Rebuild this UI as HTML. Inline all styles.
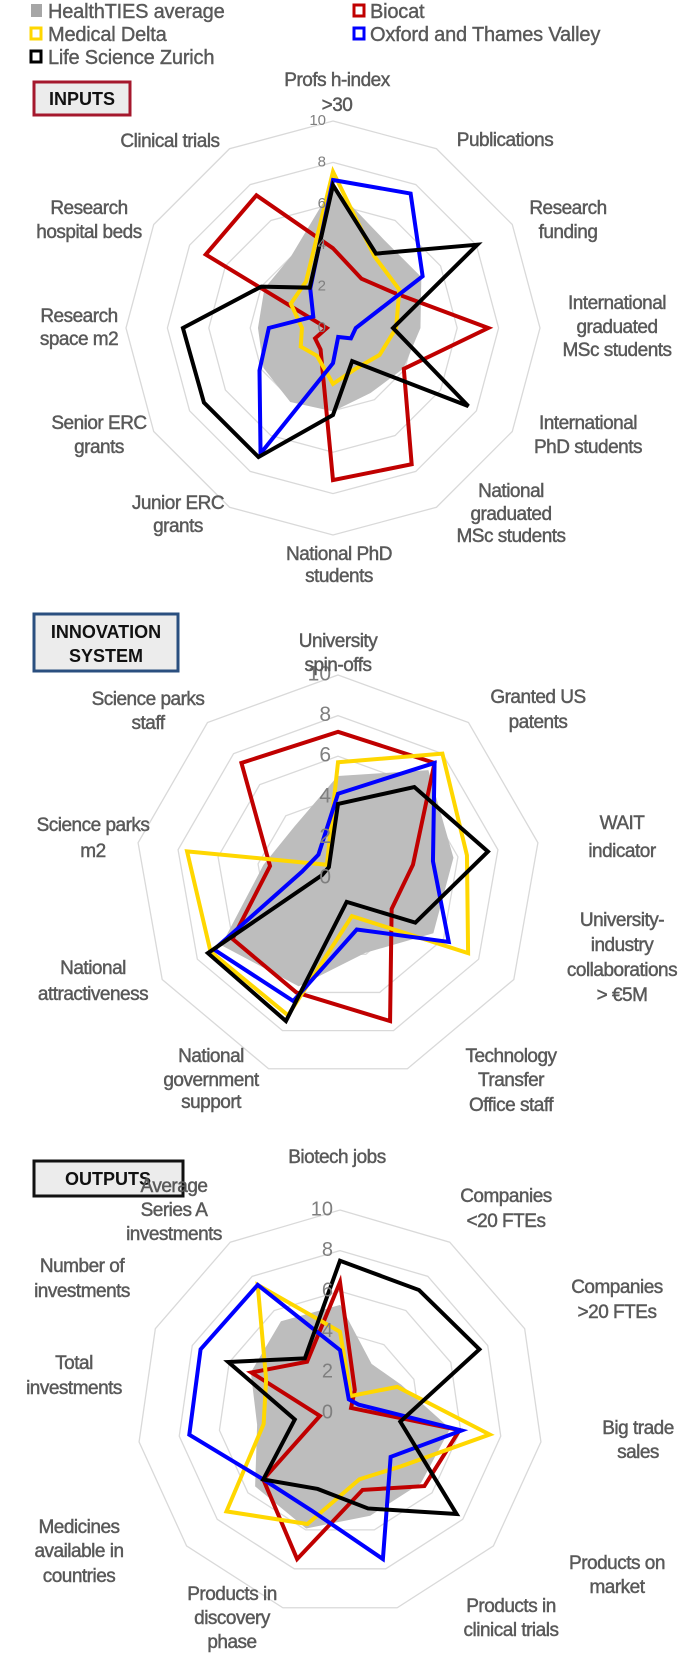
<!DOCTYPE html>
<html><head><meta charset="utf-8">
<style>
html,body{margin:0;padding:0;background:#fff;}
svg{display:block;font-family:"Liberation Sans",Arial,sans-serif;}
.lab{fill:#595959;stroke:#595959;stroke-width:0.45px;font-size:19px;letter-spacing:-0.5px;}
.leg{fill:#595959;stroke:#595959;stroke-width:0.4px;font-size:20px;letter-spacing:-0.2px;}
.box{font-weight:bold;font-size:18px;fill:#111;}
</style></head>
<body>
<svg id="root" width="681" height="1653" viewBox="0 0 681 1653" xmlns="http://www.w3.org/2000/svg">
  <g>
    <g><rect x="31" y="4" width="11" height="13" fill="#a6a6a6"/><text class="leg" x="48" y="18">HealthTIES average</text></g>
    <g><rect x="354" y="5" width="10" height="11" fill="#fff" stroke="#c00000" stroke-width="3"/><text class="leg" x="370" y="18">Biocat</text></g>
    <g><rect x="31" y="28" width="10" height="11" fill="#fff" stroke="#ffd700" stroke-width="3"/><text class="leg" x="48" y="41">Medical Delta</text></g>
    <g><rect x="354" y="28" width="10" height="11" fill="#fff" stroke="#0000ff" stroke-width="3"/><text class="leg" x="370" y="41">Oxford and Thames Valley</text></g>
    <g><rect x="31" y="51" width="10" height="11" fill="#fff" stroke="#000" stroke-width="3"/><text class="leg" x="48" y="64">Life Science Zurich</text></g>
  </g>

  <g><rect x="34" y="82" width="96" height="33" fill="#ececec" stroke="#a5182d" stroke-width="3"/><text class="box" x="82" y="105" text-anchor="middle">INPUTS</text></g>
  <g><rect x="34" y="614" width="144" height="57" fill="#ececec" stroke="#2a4f7f" stroke-width="3"/><text class="box" x="106" y="638" text-anchor="middle">INNOVATION</text><text class="box" x="106" y="662" text-anchor="middle">SYSTEM</text></g>
  <g><rect x="34" y="1161" width="149" height="35" fill="#ececec" stroke="#111" stroke-width="3"/><text class="box" x="108" y="1185" text-anchor="middle">OUTPUTS</text></g>

  <g id="c1"></g>
  <g id="c2"></g>
  <g id="c3"></g>

  <g class="lab" text-anchor="middle">
    <text x="337" y="86">Profs h-index</text><text x="337" y="111">&gt;30</text>
    <text x="505" y="146">Publications</text>
    <text x="568" y="214">Research</text><text x="568" y="238">funding</text>
    <text x="617" y="309">International</text><text x="617" y="333">graduated</text><text x="617" y="356">MSc students</text>
    <text x="588" y="429">International</text><text x="588" y="453">PhD students</text>
    <text x="511" y="497">National</text><text x="511" y="520">graduated</text><text x="511" y="542">MSc students</text>
    <text x="339" y="560">National PhD</text><text x="339" y="582">students</text>
    <text x="178" y="509">Junior ERC</text><text x="178" y="532">grants</text>
    <text x="99" y="429">Senior ERC</text><text x="99" y="453">grants</text>
    <text x="79" y="322">Research</text><text x="79" y="345">space m2</text>
    <text x="89" y="214">Research</text><text x="89" y="238">hospital beds</text>
    <text x="170" y="147">Clinical trials</text>
  </g>
  <g class="lab" text-anchor="middle">
    <text x="338" y="647">University</text><text x="338" y="671">spin-offs</text>
    <text x="538" y="703">Granted US</text><text x="538" y="728">patents</text>
    <text x="622" y="829">WAIT</text><text x="622" y="857">indicator</text>
    <text x="622" y="926">University-</text><text x="622" y="951">industry</text><text x="622" y="976">collaborations</text><text x="622" y="1001">&gt; €5M</text>
    <text x="511" y="1062">Technology</text><text x="511" y="1086">Transfer</text><text x="511" y="1111">Office staff</text>
    <text x="211" y="1062">National</text><text x="211" y="1086">government</text><text x="211" y="1108">support</text>
    <text x="93" y="974">National</text><text x="93" y="1000">attractiveness</text>
    <text x="93" y="831">Science parks</text><text x="93" y="857">m2</text>
    <text x="148" y="705">Science parks</text><text x="148" y="729">staff</text>
  </g>
  <g class="lab" text-anchor="middle">
    <text x="337" y="1163">Biotech jobs</text>
    <text x="506" y="1202">Companies</text><text x="506" y="1227">&lt;20 FTEs</text>
    <text x="617" y="1293">Companies</text><text x="617" y="1318">&gt;20 FTEs</text>
    <text x="638" y="1434">Big trade</text><text x="638" y="1458">sales</text>
    <text x="617" y="1569">Products on</text><text x="617" y="1593">market</text>
    <text x="511" y="1612">Products in</text><text x="511" y="1636">clinical trials</text>
    <text x="232" y="1600">Products in</text><text x="232" y="1624">discovery</text><text x="232" y="1648">phase</text>
    <text x="79" y="1533">Medicines</text><text x="79" y="1557">available in</text><text x="79" y="1582">countries</text>
    <text x="74" y="1369">Total</text><text x="74" y="1394">investments</text>
    <text x="82" y="1272">Number of</text><text x="82" y="1297">investments</text>
    <text x="174" y="1192">Average</text><text x="174" y="1216">Series A</text><text x="174" y="1240">investments</text>
  </g>
</svg>
<script>
// ---- data ----
const ticks = [0, 2, 4, 6, 8, 10];
const seriesNames = ["HealthTIES average", "Biocat", "Medical Delta", "Oxford and Thames Valley", "Life Science Zurich"];
// Inputs chart (12 axes)
const inputsAxes = ["Profs h-index >30","Publications","Research funding","International graduated MSc students","International PhD students","National graduated MSc students","National PhD students","Junior ERC grants","Senior ERC grants","Research space m2","Research hospital beds","Clinical trials"];
const inputsAverage = [6.8,4.9,4.9,4.2,3.9,3.6,4.0,4.1,3.85,3.6,3.8,4.0];
const inputsBiocat  = [3.85,2.75,3.4,7.5,3.95,7.6,7.35,1.2,1.0,0.3,7.1,7.4];
const inputsDelta   = [7.55,4.0,3.7,3.05,2.6,2.25,2.7,1.55,1.8,1.5,2.35,2.6];
const inputsOxford  = [7.15,7.5,5.0,1.1,1.0,0.5,1.7,7.0,4.1,3.1,1.1,2.2];
const inputsZurich  = [6.9,4.15,8.05,2.9,7.55,1.85,4.2,7.2,7.2,7.25,4.0,2.25];
// Innovation system chart (9 axes)
const innovAxes = ["University spin-offs","Granted US patents","WAIT indicator","University-industry collaborations > €5M","Technology Transfer Office staff","National government support","National attractiveness","Science parks m2","Science parks staff"];
const innovAverage = [5.0,6.9,5.75,5.4,3.9,5.65,6.6,3.7,3.3];
const innovBiocat  = [7.2,7.4,3.75,3.05,7.5,6.0,6.0,3.4,7.4];
const innovDelta   = [5.7,8.0,6.45,7.4,2.0,7.2,7.25,7.55,0.85];
const innovOxford  = [4.15,7.4,4.75,6.3,2.7,6.45,7.05,1.8,1.5];
const innovZurich  = [3.65,5.85,7.5,4.4,1.25,7.5,7.4,0.8,0.7];
// Outputs chart (11 axes)
const outAxes = ["Biotech jobs","Companies <20 FTEs","Companies >20 FTEs","Big trade sales","Products on market","Products in clinical trials","Products in discovery phase","Medicines available in countries","Total investments","Number of investments","Average Series A investments"];
const outAverage = [5.3,2.85,3.3,5.45,5.25,5.25,5.9,5.5,4.1,4.8,5.35];
const outBiocat  = [6.45,1.35,0.6,5.95,5.5,3.95,7.5,5.0,1.0,4.8,3.0];
const outDelta   = [4.0,1.0,3.1,7.45,4.0,3.4,5.7,7.4,3.8,4.0,7.5];
const outOxford  = [3.1,0.8,1.0,6.05,3.3,7.5,5.0,5.0,7.5,7.55,7.5];
const outZurich  = [7.5,7.2,7.55,3.0,7.6,4.9,3.9,5.0,2.25,6.05,3.2];

const NS = "http://www.w3.org/2000/svg";
function mk(tag, attrs, parent){ const e=document.createElementNS(NS,tag); for(const k in attrs) e.setAttribute(k,attrs[k]); parent.appendChild(e); return e; }

function radar(gid, cx, cy, R, axes, series, tickSize, prefix){
  const g = document.getElementById(gid);
  const n = axes.length, max = 10;
  const pt = (i, v) => { const a = 2*Math.PI*i/n; const r = R*v/max; return [cx + r*Math.sin(a), cy - r*Math.cos(a)]; };
  ticks.forEach(t => {
    if (t === 0) return;
    const pts = axes.map((_, i) => pt(i, t).join(",")).join(" ");
    const ring = mk("polygon", {points: pts, fill: "none", stroke: "#d9d9d9", "stroke-width": 1.3}, g);
    
    
  });
  const colors = ["#b3b3b3", "#c00000", "#ffd700", "#0000ff", "#000000"];
  const keys = ["average", "biocat", "medical-delta", "oxford", "zurich"];
  series.forEach((vals, s) => {
    const pts = vals.map((v, i) => pt(i, v).join(",")).join(" ");
    const attrs = s === 0 ? {points: pts, fill: "#bdbdbd", stroke: "#bdbdbd", "stroke-width": 1}
                          : {points: pts, fill: "none", stroke: colors[s], "stroke-width": 4, "stroke-linejoin": "miter"};
    const p = mk("polygon", attrs, g);
    
    
  });
  ticks.forEach(t => {
    const [x, y] = pt(0, t);
    const tx = mk("text", {x: x - 7, y: y, "text-anchor": "end", "dominant-baseline": "middle", fill: "#7f7f7f", "font-size": tickSize}, g);
    tx.textContent = String(t);
    
    
  });
}
radar("c1", 333, 328, 207, inputsAxes, [inputsAverage, inputsBiocat, inputsDelta, inputsOxford, inputsZurich], 15, "inputs");
radar("c2", 338, 878, 203, innovAxes, [innovAverage, innovBiocat, innovDelta, innovOxford, innovZurich], 21, "innovation");
radar("c3", 340, 1413, 203, outAxes, [outAverage, outBiocat, outDelta, outOxford, outZurich], 20, "outputs");
</script>
</body></html>
